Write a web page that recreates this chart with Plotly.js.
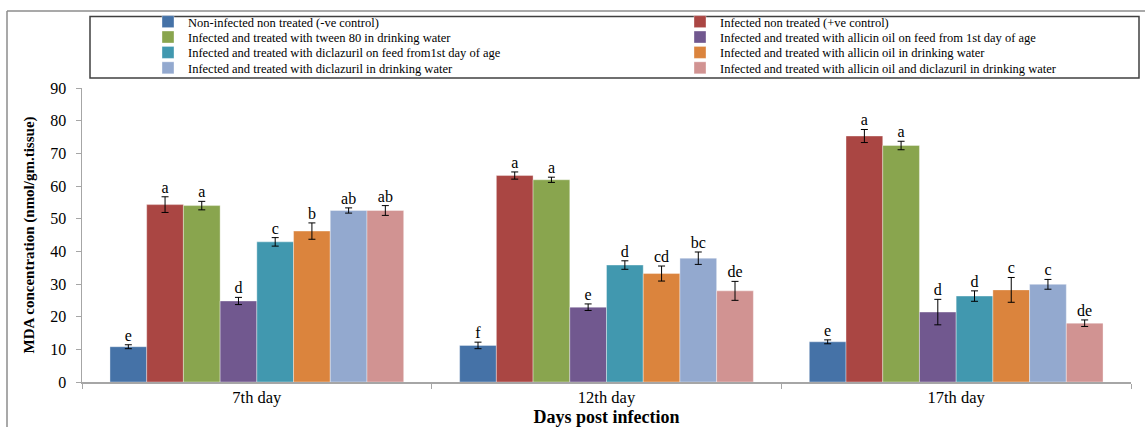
<!DOCTYPE html>
<html>
<head>
<meta charset="utf-8">
<script src="https://cdn.plot.ly/plotly-3.0.1.min.js"></script>
<style>html,body{margin:0;padding:0;background:#fff;}#chart{width:1145px;height:427px;}</style>
</head>
<body>
<div id="chart"></div>
<script>
const days = ["7th day", "12th day", "17th day"];

const seriesNames = [
  "Non-infected non treated (-ve control)",
  "Infected non treated (+ve control)",
  "Infected and treated with tween 80 in drinking water",
  "Infected and treated with allicin oil on feed from 1st day of age",
  "Infected and treated with diclazuril on feed from1st day of age",
  "Infected and treated with allicin oil in drinking water",
  "Infected and treated with diclazuril in drinking water",
  "Infected and treated with allicin oil and diclazuril in drinking water"
];

const seriesColors = ["#4572A7", "#AA4643", "#89A54E", "#71588F", "#4198AF", "#DB843D", "#93A9CF", "#D19392"];

// MDA values per series: [7th, 12th, 17th]
const negControl   = [10.8, 11.2, 12.3];
const posControl   = [54.3, 63.2, 75.3];
const tween80      = [54.0, 61.9, 72.4];
const allicinFeed  = [24.8, 22.9, 21.4];
const diclaFeed    = [42.9, 35.8, 26.3];
const allicinWater = [46.2, 33.2, 28.2];
const diclaWater   = [52.5, 37.9, 29.9];
const comboWater   = [52.5, 27.9, 18.0];

// standard errors
const negControlErr   = [0.6, 1.0, 0.6];
const posControlErr   = [2.4, 1.1, 2.0];
const tween80Err      = [1.3, 0.8, 1.3];
const allicinFeedErr  = [1.1, 1.0, 3.9];
const diclaFeedErr    = [1.3, 1.3, 1.6];
const allicinWaterErr = [2.5, 2.3, 3.8];
const diclaWaterErr   = [0.8, 1.9, 1.5];
const comboWaterErr   = [1.5, 2.9, 1.0];

// significance letters
const negControlLbl   = ["e", "f", "e"];
const posControlLbl   = ["a", "a", "a"];
const tween80Lbl      = ["a", "a", "a"];
const allicinFeedLbl  = ["d", "e", "d"];
const diclaFeedLbl    = ["c", "d", "d"];
const allicinWaterLbl = ["b", "cd", "c"];
const diclaWaterLbl   = ["ab", "bc", "c"];
const comboWaterLbl   = ["ab", "de", "de"];

const values = [negControl, posControl, tween80, allicinFeed, diclaFeed, allicinWater, diclaWater, comboWater];
const errors = [negControlErr, posControlErr, tween80Err, allicinFeedErr, diclaFeedErr, allicinWaterErr, diclaWaterErr, comboWaterErr];
const letters = [negControlLbl, posControlLbl, tween80Lbl, allicinFeedLbl, diclaFeedLbl, allicinWaterLbl, diclaWaterLbl, comboWaterLbl];

const FONT = "Liberation Serif, Times New Roman, serif";
const traces = [];
values.forEach((v, i) => {
  traces.push({
    type: "bar",
    name: seriesNames[i],
    legend: (i % 2 === 0) ? "legend" : "legend2",
    x: days,
    y: v,
    offsetgroup: "g" + i,
    marker: {color: seriesColors[i], line: {color: "rgba(255,255,255,0.45)", width: 0.8}},
    error_y: {type: "data", array: errors[i], visible: true, color: "#000", thickness: 1, width: 3.5},
    hoverinfo: "x+y+name"
  });
});
values.forEach((v, i) => {
  traces.push({
    type: "scatter",
    mode: "text",
    x: days,
    y: v.map((val, k) => val + errors[i][k]),
    text: letters[i],
    textposition: "top center",
    textfont: {family: FONT, size: 16, color: "#000"},
    offsetgroup: "g" + i,
    showlegend: false,
    hoverinfo: "skip",
    cliponaxis: false
  });
});

const L = 82, R = 14, T = 88, B = 45, W = 1145, H = 427;
const pw = W - L - R, ph = H - T - B;
const px = p => (p - L) / pw;
const py = p => (H - B - p) / ph;

const legendCommon = {
  orientation: "v",
  yanchor: "top",
  xanchor: "left",
  font: {family: FONT, size: 12.5, color: "#000"},
  bgcolor: "rgba(0,0,0,0)",
  traceorder: "normal",
  itemclick: false, itemdoubleclick: false
};

const layout = {
  width: W, height: H,
  margin: {l: L, r: R, t: T, b: B, autoexpand: false},
  paper_bgcolor: "#fff",
  plot_bgcolor: "#fff",
  barmode: "group",
  bargap: 0.16,
  bargroupgap: 0,
  scattermode: "group",
  scattergap: 0.16,
  font: {family: FONT, color: "#000"},
  showlegend: true,
  legend: Object.assign({}, legendCommon, {x: px(148), y: py(7)}),
  legend2: Object.assign({}, legendCommon, {x: px(680), y: py(7)}),
  xaxis: {
    type: "category",
    showline: true, linecolor: "#A6A6A6", linewidth: 1.5,
    ticks: "outside", tickson: "boundaries", ticklen: 5, tickcolor: "#A6A6A6",
    tickfont: {family: FONT, size: 16.5, color: "#000"},
    showgrid: false, zeroline: false,
    title: {text: "<b>Days post infection</b>", font: {family: FONT, size: 18, color: "#000"}, standoff: 15},
    automargin: false
  },
  yaxis: {
    range: [0, 90], dtick: 10,
    showline: true, linecolor: "#A6A6A6", linewidth: 1.5,
    ticks: "outside", ticklen: 5, tickcolor: "#A6A6A6",
    ticklabelstandoff: 6,
    tickfont: {family: FONT, size: 16, color: "#000"},
    showgrid: false, zeroline: false,
    title: {text: "<b>MDA concentration (nmol/gm.tissue)</b>", font: {family: FONT, size: 15, color: "#000"}, standoff: 12},
    automargin: false
  },
  shapes: [
    {type: "rect", xref: "paper", yref: "paper", x0: px(90), x1: px(1139), y0: py(78), y1: py(16.5),
     line: {color: "#404040", width: 1.5}, fillcolor: "rgba(0,0,0,0)", layer: "below"},
    {type: "line", xref: "paper", yref: "paper", x0: px(7), x1: px(7), y0: py(11), y1: py(430),
     line: {color: "#8C8C8C", width: 1.5}},
    {type: "line", xref: "paper", yref: "paper", x0: px(7), x1: px(1150), y0: py(11), y1: py(11),
     line: {color: "#8C8C8C", width: 1.5}}
  ]
};

// tighten legend row spacing to match the reference (15px rows)
function tightenLegends() {
  const groups = new Map();
  document.querySelectorAll("#chart .infolayer g.traces").forEach(g => {
    const p = g.parentNode;
    if (!groups.has(p)) groups.set(p, []);
    groups.get(p).push(g);
  });
  groups.forEach(items => {
    const parsed = items.map(g => {
      const m = /translate\(\s*([-\d.e]+)[ ,]+([-\d.e]+)\s*\)/.exec(g.getAttribute("transform") || "");
      return m ? [parseFloat(m[1]), parseFloat(m[2])] : null;
    });
    if (parsed.some(p => !p)) return;
    const y0 = parsed[0][1];
    items.forEach((g, k) => {
      const ny = y0 + (parsed[k][1] - y0) * (15.2 / 19);
      g.setAttribute("transform", "translate(" + parsed[k][0] + "," + ny + ")");
    });
  });
}

Plotly.newPlot("chart", traces, layout, {displayModeBar: false, responsive: false, staticPlot: true}).then(tightenLegends);
</script>
</body>
</html>
